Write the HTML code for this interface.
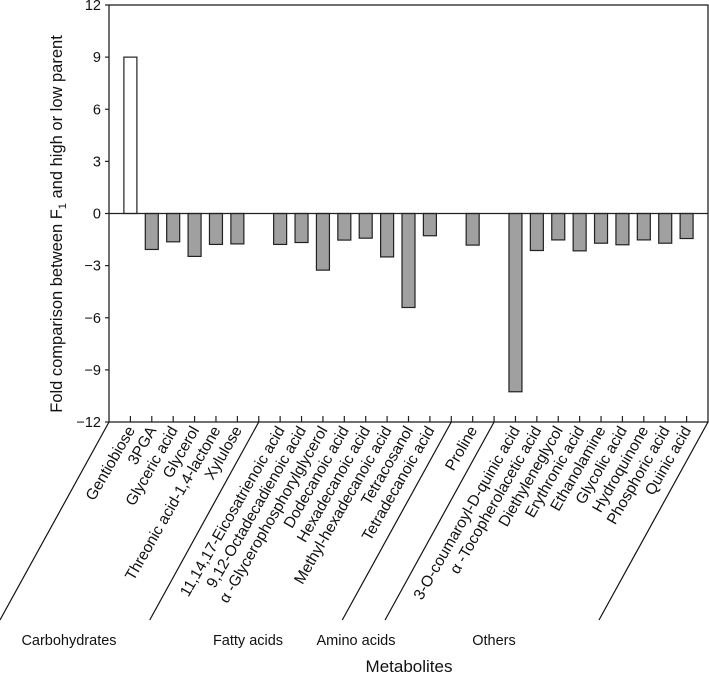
<!DOCTYPE html>
<html><head><meta charset="utf-8"><style>
body{margin:0;background:#fff}
svg{display:block;font-family:"Liberation Sans",sans-serif}
</style></head><body>
<svg id="chart" width="709" height="680" viewBox="0 0 709 680" xmlns="http://www.w3.org/2000/svg">
<g id="plot"></g>
</svg>
<script>
const categories=["Gentiobiose","3PGA","Glyceric acid","Glycerol","Threonic acid-1,4-lactone","Xylulose",
"11,14,17-Eicosatrienoic acid","9,12-Octadecadienoic acid","α -Glycerophosphorylglycerol","Dodecanoic acid","Hexadecanoic acid","Methyl-hexadecanoic acid","Tetracosanol","Tetradecanoic acid",
"Proline",
"3-O-coumaroyl-D-quinic acid","α -Tocopherolacetic acid","Diethyleneglycol","Erythronic acid","Ethanolamine","Glycolic acid","Hydroquinone","Phosphoric acid","Quinic acid"];
const values=[9,-2.07,-1.63,-2.47,-1.78,-1.75,
-1.78,-1.67,-3.26,-1.53,-1.42,-2.5,-5.41,-1.28,
-1.82,
-10.26,-2.13,-1.52,-2.15,-1.71,-1.8,-1.52,-1.71,-1.44];
const slotIndex=[1,2,3,4,5,6,8,9,10,11,12,13,14,15,17,19,20,21,22,23,24,25,26,27];
const groups=["Carbohydrates","Fatty acids","Amino acids","Others"];
const groupBounds=[0,7,16,18,28];
const yTicks=[12,9,6,3,0,-3,-6,-9,-12];
const yTickLabels=["12","9","6","3","0","\u22123","\u22126","\u22129","\u221212"];

const NS="http://www.w3.org/2000/svg";
const L=109,R=708,T=5,B=422,nSlots=28;
const x=i=>L+i*(R-L)/nSlots;
const y=v=>T+(12-v)*(B-T)/24;
const g=document.getElementById('plot');
function mk(tag,attrs,parent){const e=document.createElementNS(NS,tag);for(const k in attrs)e.setAttribute(k,attrs[k]);(parent||g).appendChild(e);return e;}

values.forEach((v,i)=>{
  const cx=x(slotIndex[i]),w=13;
  const b=mk('rect',{x:cx-w/2,y:Math.min(y(v),y(0)),width:w,height:Math.abs(y(v)-y(0)),fill:v>0?'#fff':'#a0a0a0',stroke:'#222','stroke-width':1.2});
  
  
  const t=mk('text',{x:0,y:0,'font-size':15.5,'text-anchor':'end',fill:'#111',transform:`translate(${cx+5},${B+8}) rotate(-60)`});
  t.textContent=categories[i];
  
  
});
const fr=mk('rect',{x:L,y:T,width:R-L,height:B-T,fill:'none',stroke:'#222','stroke-width':1.3});


const zl=mk('line',{x1:L,x2:R,y1:y(0),y2:y(0),stroke:'#222','stroke-width':1.2});


for(let i=1;i<nSlots;i++){
  const tk=mk('line',{x1:x(i),x2:x(i),y1:B,y2:B-6,stroke:'#222','stroke-width':1.2});
  
  
}
groupBounds.forEach(bd=>{
  const ln=mk('line',{x1:x(bd),y1:B,x2:x(bd)-109,y2:B+198,stroke:'#111','stroke-width':1.2});
  
  
});
const gx=[69,248,356,494];
groups.forEach((gn,i)=>{
  const t=mk('text',{x:gx[i],y:645,'font-size':14.5,'text-anchor':'middle',fill:'#111'});
  t.textContent=gn;
  
  
});
yTicks.forEach((v,i)=>{
  const tk=mk('line',{x1:L-4,x2:L,y1:y(v),y2:y(v),stroke:'#222','stroke-width':1.2});
  
  
  const t=mk('text',{x:101,y:y(v)+5,'font-size':14.5,'text-anchor':'end',fill:'#111'});
  t.textContent=yTickLabels[i];
  
  
});
const yt=mk('text',{x:0,y:0,'font-size':16.5,'text-anchor':'middle',fill:'#111',transform:'translate(62,224) rotate(-90)'});
yt.innerHTML='Fold comparison between F<tspan font-size="11" dy="4">1</tspan><tspan dy="-4"> and high or low parent</tspan>';


const xt=mk('text',{x:409,y:672,'font-size':17,'text-anchor':'middle',fill:'#111'});
xt.textContent='Metabolites';


</script>
</body></html>
